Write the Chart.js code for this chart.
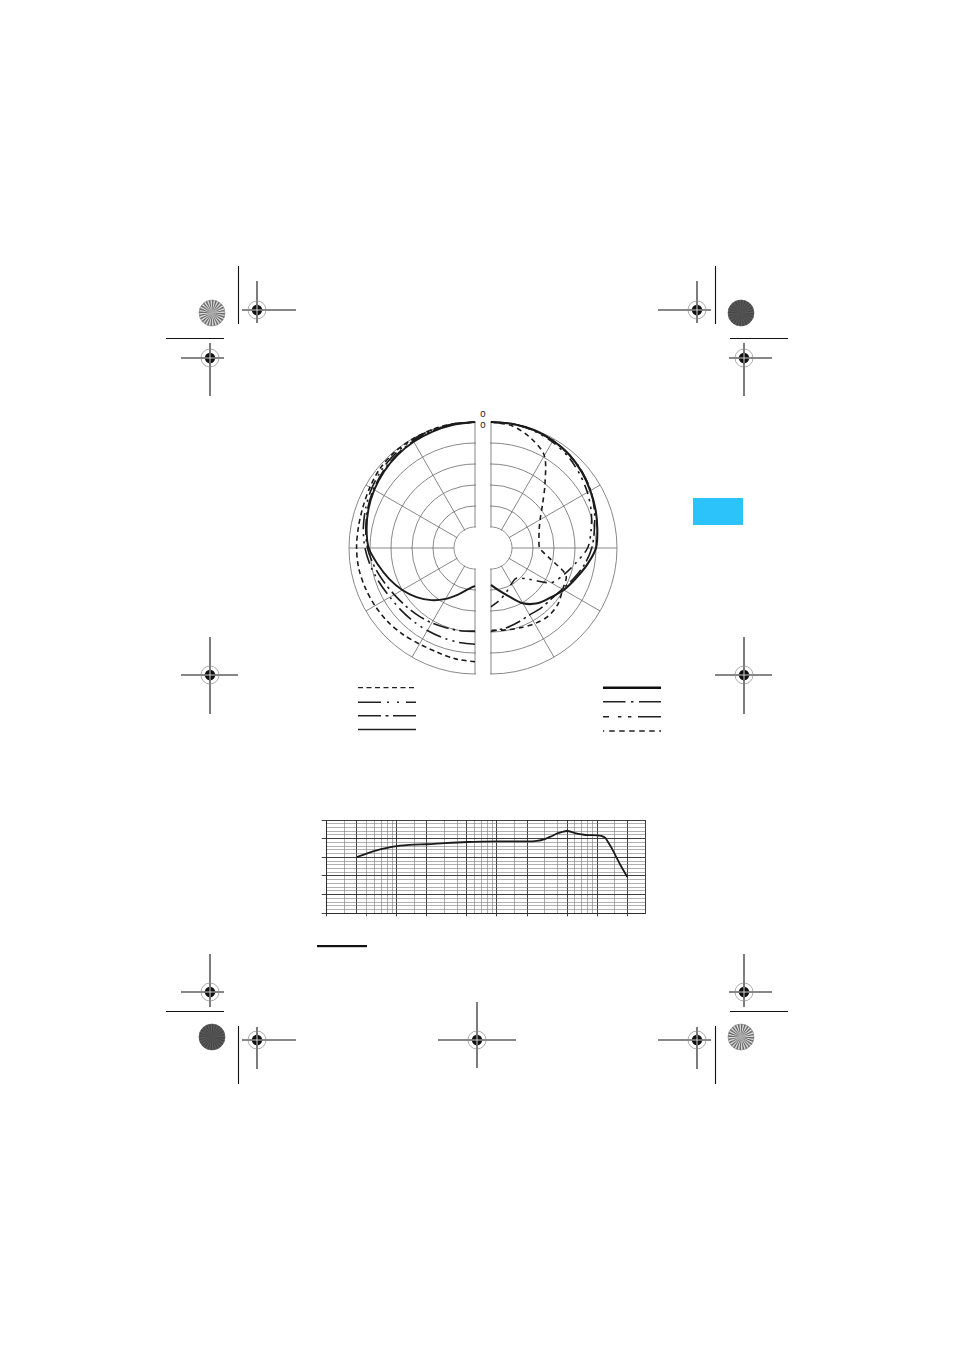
<!DOCTYPE html>
<html>
<head>
<meta charset="utf-8">
<script src="https://cdn.jsdelivr.net/npm/chart.js@4.4.0/dist/chart.umd.min.js"></script>
<style>
html, body { margin: 0; padding: 0; background: #fff; }
body { width: 954px; height: 1350px; position: relative; overflow: hidden; font-family: 'Liberation Sans', Arial, sans-serif; }
.abs { position: absolute; }
#leftClip { left: 340px; top: 413px; width: 136px; height: 270px; overflow: hidden; }
#leftClip canvas { position: absolute; left: 0; top: 0; }
#rightClip { left: 490px; top: 413px; width: 136px; height: 270px; overflow: hidden; }
#rightClip canvas { position: absolute; left: -134px; top: 0; }
#freqChart { left: 300px; top: 805px; }
#marks { left: 0; top: 0; }
</style>
</head>
<body>
<svg id="marks" class="abs" width="954" height="1350"></svg>
<div id="leftClip" class="abs"><canvas id="polarLeft" width="270" height="270" style="width:270px;height:270px"></canvas></div>
<div id="rightClip" class="abs"><canvas id="polarRight" width="270" height="270" style="width:270px;height:270px"></canvas></div>
<canvas id="freqChart" class="abs" width="360" height="120" style="width:360px;height:120px"></canvas>

<script>
// Polar diagram: angle labels of the radial scale (10 degree steps, clockwise from the top)
const angleLabels = ['0', '10', '20', '30', '40', '50', '60', '70', '80', '90', '100', '110',
    '120', '130', '140', '150', '160', '170', '180', '190', '200', '210', '220', '230',
    '240', '250', '260', '270', '280', '290', '300', '310', '320', '330', '340', '350'];

// Half-diagram angles 0..180 (dB values below follow this order)
const halfAngles = [0, 10, 20, 30, 40, 50, 60, 70, 80, 90, 100, 110, 120, 130, 140, 150, 160, 170, 180];

// Left half (angle counted to the left of the top)
const leftSolid   = [0, -0.2, -0.5, -0.8, -1.2, -1.7, -2.3, -3.0, -3.8, -4.7, -6.6, -8.3, -10.0, -11.8, -13.8, -16.0, -18.2, -20.0, -21.0];
const leftDashed  = [0, 0, 0, -0.1, -0.2, -0.5, -1.1, -1.6, -1.8, -1.8, -1.9, -2.2, -2.5, -2.8, -3.2, -3.6, -3.6, -3.2, -2.9];
const leftDashDotDot = [0, 0, -0.1, -0.3, -0.6, -1.0, -1.6, -2.3, -3.0, -3.8, -4.8, -5.8, -6.6, -7.0, -7.2, -7.3, -7.3, -7.2, -7.1];
const leftDashDot = [0, -0.1, -0.3, -0.6, -1.0, -1.5, -2.1, -2.8, -3.6, -4.4, -5.6, -6.8, -7.8, -8.5, -9.0, -9.4, -9.8, -10.0, -10.2];

// Right half (angle counted to the right of the top)
const rightSolid   = [0, 0, -0.1, -0.5, -1.0, -1.8, -2.7, -3.5, -4.3, -5.0, -6.8, -8.6, -10.0, -11.6, -12.8, -14.8, -17.8, -19.8, -21.2];
const rightDashed  = [0, -0.5, -2.2, -4.6, -10.0, -14.0, -16.5, -17.8, -18.4, -18.4, -15.8, -11.0, -10.3, -9.2, -8.8, -9.2, -9.8, -10.2, -10.4];
const rightDashDot = [0, 0, -0.2, -0.5, -1.0, -1.7, -2.6, -3.8, -5.0, -6.0, -7.4, -9.0, -10.4, -11.2, -11.4, -11.6, -11.2, -10.6, -10.2];
const rightDashDotDot = [0, 0, -0.3, -0.8, -1.5, -2.5, -3.5, -4.6, -5.8, -7.0, -9.5, -11.5, -13.5, -18.5, -20.6, -20.2, -19.0, -17.5, -16.0];

// Frequency response
const freqHz = [40, 50, 63, 80, 100, 150, 200, 300, 500, 700, 1000, 1500, 2000, 2500, 3000, 3500, 4000,
    4500, 5000, 6000, 7000, 8000, 10000, 11000, 12000, 13000, 14000, 15000, 17000, 20000];
const responseDb = [-9.9, -8.0, -6.3, -5.0, -4.0, -3.2, -3.0, -2.4, -1.8, -1.6, -1.5, -1.5, -1.5, -1.2, -0.2, 1.3, 2.8,
    3.7, 4.1, 3.0, 2.3, 1.9, 1.8, 1.5, 0.5, -2.3, -5.2, -8.3, -14.0, -20.6];
const freqGrid = [20, 30, 40, 50, 60, 70, 80, 90, 100, 150, 200, 300, 400, 500, 600, 700, 800, 900,
    1000, 1500, 2000, 3000, 4000, 5000, 6000, 7000, 8000, 9000, 10000, 15000, 20000, 30000];
const freqDark = [20, 40, 100, 200, 500, 1000, 2000, 5000, 10000, 20000, 30000];
const freqTickMarks = [20, 50, 100, 200, 500, 1000, 2000, 5000, 10000, 20000];
const dbGrid = [-40, -38, -36, -34, -32, -30, -28, -26, -24, -22, -20, -18, -16, -14, -12, -10,
    -8, -6, -4, -2, 0, 2, 4, 6, 8, 10];
const dbMajor = [-40, -30, -20, -10, 0, 10];

// Put a half (0..180) onto the 36 radar spokes
function toLeft(values) {
    return angleLabels.map((_, i) => i === 0 ? values[0] : (i >= 18 ? values[36 - i] : null));
}
function toRight(values) {
    return angleLabels.map((_, i) => i <= 18 ? values[i] : null);
}

// White hub inside the -25 dB ring
const innerDisc = {
    id: 'innerDisc',
    beforeDatasetsDraw(chart) {
        const r = chart.scales.r;
        const ctx = chart.ctx;
        ctx.save();
        ctx.fillStyle = '#fff';
        ctx.beginPath();
        ctx.arc(r.xCenter, r.yCenter, r.getDistanceFromCenterForValue(-25) - 0.6, 0, Math.PI * 2);
        ctx.fill();
        ctx.restore();
    }
};

function curve(data, width, dash) {
    return {
        data: data,
        borderColor: '#1b1b1b',
        borderWidth: width,
        borderDash: dash,
        borderCapStyle: 'butt',
        fill: false,
        spanGaps: false,
        pointRadius: 0,
        tension: 0.3
    };
}

function makePolar(id, datasets) {
    return new Chart(document.getElementById(id), {
        type: 'radar',
        data: { labels: angleLabels, datasets: datasets },
        options: {
            responsive: false,
            animation: false,
            events: [],
            layout: { padding: 9 },
            plugins: { legend: { display: false }, tooltip: { enabled: false } },
            scales: {
                r: {
                    min: -30,
                    max: 0,
                    ticks: { display: false, stepSize: 5 },
                    pointLabels: { display: false },
                    grid: { circular: true, color: '#6a6a6a', lineWidth: 0.8 },
                    angleLines: {
                        color: ctx => ctx.index % 3 === 0 ? '#6a6a6a' : 'rgba(0,0,0,0)',
                        lineWidth: 0.8
                    }
                }
            }
        },
        plugins: [innerDisc]
    });
}

makePolar('polarLeft', [
    curve(toLeft(leftDashed), 1.6, [5, 3.5]),
    curve(toLeft(leftDashDotDot), 1.6, [16, 5, 2, 5, 2, 5]),
    curve(toLeft(leftDashDot), 1.6, [16, 4, 2.5, 4]),
    curve(toLeft(leftSolid), 1.9, [])
]);

makePolar('polarRight', [
    curve(toRight(rightDashed), 1.6, [5, 4]),
    curve(toRight(rightDashDot), 1.6, [16, 4, 2.5, 4]),
    curve(toRight(rightDashDotDot), 1.6, [10, 5, 2.5, 5, 2.5, 5]),
    curve(toRight(rightSolid), 2.1, [])
]);

// Frequency response chart
new Chart(document.getElementById('freqChart'), {
    type: 'line',
    data: {
        datasets: [{
            data: freqHz.map((f, i) => ({ x: f, y: responseDb[i] })),
            borderColor: '#1b1b1b',
            borderWidth: 1.8,
            pointRadius: 0,
            cubicInterpolationMode: 'monotone',
            fill: false
        }]
    },
    options: {
        responsive: false,
        animation: false,
        events: [],
        layout: { padding: { left: 21.7, right: 15, top: 15, bottom: 8.7 } },
        plugins: { legend: { display: false }, tooltip: { enabled: false } },
        scales: {
            x: {
                type: 'logarithmic',
                min: 20,
                max: 30000,
                afterBuildTicks: scale => { scale.ticks = freqGrid.map(v => ({ value: v })); },
                ticks: { display: false },
                grid: {
                    color: ctx => freqDark.includes(ctx.tick.value) ? '#2a2a2a' : '#8c8c8c',
                    lineWidth: ctx => freqDark.includes(ctx.tick.value) ? 0.9 : 0.7,
                    tickLength: 3,
                    tickColor: ctx => freqTickMarks.includes(ctx.tick.value) ? '#2a2a2a' : 'rgba(0,0,0,0)'
                },
                border: { color: '#2a2a2a', width: 0.9 }
            },
            y: {
                min: -40,
                max: 10,
                afterBuildTicks: scale => { scale.ticks = dbGrid.map(v => ({ value: v })); },
                ticks: { display: false },
                grid: {
                    color: ctx => dbMajor.includes(ctx.tick.value) ? '#2a2a2a' : '#7a7a7a',
                    lineWidth: ctx => dbMajor.includes(ctx.tick.value) ? 0.9 : 0.6,
                    tickLength: 5,
                    tickColor: ctx => dbMajor.includes(ctx.tick.value) ? '#2a2a2a' : 'rgba(0,0,0,0)'
                },
                border: { color: '#2a2a2a', width: 0.9 }
            }
        }
    }
});

// Page furniture: crop and registration marks, legend samples
const svg = document.getElementById('marks');
const NS = 'http://www.w3.org/2000/svg';
function add(tag, attrs, text) {
    const el = document.createElementNS(NS, tag);
    for (const k in attrs) el.setAttribute(k, attrs[k]);
    if (text) el.textContent = text;
    svg.appendChild(el);
    return el;
}
function line(x1, y1, x2, y2, w, color, dash) {
    const a = { x1: x1, y1: y1, x2: x2, y2: y2, stroke: color || '#111', 'stroke-width': w };
    if (dash) a['stroke-dasharray'] = dash;
    return add('line', a);
}

const regMarks = [
    { x: 257, y: 310, l: 15, r: 39, u: 29, d: 13 },
    { x: 210, y: 358, l: 29, r: 14, u: 15, d: 38 },
    { x: 697, y: 310, l: 39, r: 14, u: 29, d: 13 },
    { x: 744, y: 358, l: 15, r: 28, u: 15, d: 38 },
    { x: 210, y: 675, l: 29, r: 28, u: 38, d: 39 },
    { x: 744, y: 675, l: 29, r: 28, u: 38, d: 39 },
    { x: 210, y: 992, l: 29, r: 14, u: 38, d: 15 },
    { x: 744, y: 992, l: 15, r: 28, u: 38, d: 15 },
    { x: 257, y: 1040, l: 15, r: 39, u: 13, d: 29 },
    { x: 477, y: 1040, l: 39, r: 39, u: 38, d: 28 },
    { x: 697, y: 1040, l: 39, r: 14, u: 13, d: 29 }
];
regMarks.forEach(m => {
    line(m.x - m.l, m.y, m.x + m.r, m.y, 1.1);
    line(m.x, m.y - m.u, m.x, m.y + m.d, 1.1);
    add('circle', { cx: m.x, cy: m.y, r: 9, fill: 'none', stroke: '#8a8a8a', 'stroke-width': 0.7 });
    add('circle', { cx: m.x, cy: m.y, r: 5.2, fill: '#111' });
    line(m.x - 5, m.y, m.x + 5, m.y, 0.8, '#fff');
    line(m.x, m.y - 5, m.x, m.y + 5, 0.8, '#fff');
});

// trim lines
line(238.5, 266, 238.5, 324, 1.1);
line(715.5, 266, 715.5, 324, 1.1);
line(166, 338.5, 224, 338.5, 1.1);
line(730, 338.5, 788, 338.5, 1.1);
line(166, 1011.5, 224, 1011.5, 1.1);
line(730, 1011.5, 788, 1011.5, 1.1);
line(238.5, 1026, 238.5, 1084, 1.1);
line(715.5, 1026, 715.5, 1084, 1.1);

// star targets
function starTarget(cx, cy, dark) {
    const r = 13;
    add('circle', { cx: cx, cy: cy, r: r, fill: dark ? '#5c5c5c' : '#d8d8d8' });
    const n = 48;
    for (let i = 0; i < n; i += 2) {
        const a1 = i / n * Math.PI * 2, a2 = (i + 1) / n * Math.PI * 2;
        const d = `M${cx},${cy} L${cx + r * Math.cos(a1)},${cy + r * Math.sin(a1)} A${r},${r} 0 0 1 ${cx + r * Math.cos(a2)},${cy + r * Math.sin(a2)} Z`;
        add('path', { d: d, fill: dark ? '#454545' : '#6a6a6a' });
    }
    add('circle', { cx: cx, cy: cy, r: r, fill: 'none', stroke: dark ? '#555' : '#888', 'stroke-width': 0.6 });
}
starTarget(212, 313, false);
starTarget(741, 313, true);
starTarget(212, 1037, true);
starTarget(741, 1037, false);

// colour tab
add('rect', { x: 693, y: 498, width: 50, height: 27, fill: '#2bc3fa' });

// underline below the frequency chart
add('rect', { x: 317, y: 945, width: 50, height: 2.2, fill: '#111' });

// polar "0" labels
add('text', { x: 483, y: 416.5, 'text-anchor': 'middle', 'font-size': 9.5, 'font-family': 'Liberation Sans, Arial, sans-serif', fill: '#111' }, '0');
add('text', { x: 483, y: 427.5, 'text-anchor': 'middle', 'font-size': 9.5, 'font-family': 'Liberation Sans, Arial, sans-serif', fill: '#111' }, '0');

// legend samples (left column)
line(358, 687.7, 416, 687.7, 1.3, '#222', '5,3.5');
line(358, 702.3, 416, 702.3, 1.4, '#222', '23,6,2,8,2,7,30');
line(358, 715.7, 416, 715.7, 1.4, '#222', '23,4.5,3,4.5,30');
line(358, 729.5, 416, 729.5, 1.4, '#222');
// legend samples (right column)
line(603, 687.7, 661, 687.7, 2.4, '#111');
line(603, 701.7, 661, 701.7, 1.5, '#222', '22.5,5.5,2.5,5.5,30');
line(603, 716.7, 661, 716.7, 1.6, '#222', '6,9,3.4,6.6,3.4,6.6,30');
line(603, 731, 661, 731, 1.3, '#222', '1.2,5,5.5,4.5,5.5,4.5,5.5,4.5,5.5,4.5,5.5,4.5,5.5');
</script>
</body>
</html>
